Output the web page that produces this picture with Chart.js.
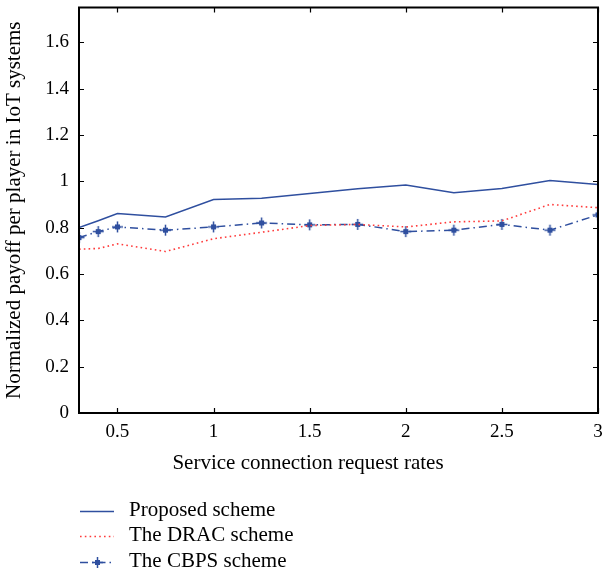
<!DOCTYPE html>
<html>
<head>
<meta charset="utf-8">
<script src="https://cdn.jsdelivr.net/npm/chart.js@4/dist/chart.umd.min.js"></script>
<style>
  html, body { margin: 0; padding: 0; background: #fff; }
  canvas { display: block; }
</style>
</head>
<body>
<canvas id="c" width="616" height="573"></canvas>
<script>
// Service connection request rates
const rates = [0.3, 0.4, 0.5, 0.75, 1, 1.25, 1.5, 1.75, 2, 2.25, 2.5, 2.75, 3];
// Normalized payoff per player
const proposed = [0.80, 0.83, 0.861, 0.846, 0.921, 0.927, 0.947, 0.968, 0.984, 0.951, 0.969, 1.003, 0.986];
const drac     = [0.707, 0.71, 0.730, 0.697, 0.752, 0.780, 0.809, 0.814, 0.803, 0.825, 0.829, 0.900, 0.886];
const cbps     = [0.757, 0.783, 0.803, 0.789, 0.803, 0.820, 0.812, 0.814, 0.783, 0.789, 0.814, 0.789, 0.855];
const seriesNames = ['Proposed scheme', 'The DRAC scheme', 'The CBPS scheme'];
const xTitle = 'Service connection request rates';
const yTitle = 'Normalized payoff per player in IoT systems';
const xTicks = [0.5, 1, 1.5, 2, 2.5, 3];
const yTicks = [0, 0.2, 0.4, 0.6, 0.8, 1, 1.2, 1.4, 1.6];

const BLUE = '#2f4f9f';
const RED = '#ff3b3b';
const FONT = '"Liberation Serif", "DejaVu Serif", serif';

// plus-with-square marker for the CBPS series
function makeMarker() {
  const m = document.createElement('canvas');
  m.width = 13; m.height = 13;
  const g = m.getContext('2d');
  g.strokeStyle = BLUE; g.fillStyle = BLUE; g.lineWidth = 1.5;
  g.beginPath();
  g.moveTo(6.5, 1); g.lineTo(6.5, 12);
  g.moveTo(1, 6.5); g.lineTo(12, 6.5);
  g.stroke();
  g.fillRect(4, 4, 5, 5);
  return m;
}
const marker = makeMarker();

const pts = ys => rates.map((x, i) => ({ x, y: ys[i] }));

const datasets = [
  { label: seriesNames[0], data: pts(proposed), borderColor: BLUE, borderWidth: 1.5,
    pointRadius: 0, fill: false, tension: 0 },
  { label: seriesNames[1], data: pts(drac), borderColor: RED, borderWidth: 1.6,
    borderDash: [1.6, 3.2], pointRadius: 0, fill: false, tension: 0 },
  { label: seriesNames[2], data: pts(cbps), borderColor: BLUE, borderWidth: 1.5,
    borderDash: [8, 4, 1.5, 4], pointStyle: marker, pointRadius: 6, fill: false, tension: 0 }
];

// box frame with inward ticks on all four sides, the x-axis title and the stacked legend
const framePlugin = {
  id: 'frame',
  afterDatasetsDraw(chart) {
    const { ctx, chartArea: a, scales: { x, y } } = chart;
    ctx.save();
    ctx.strokeStyle = '#000';
    ctx.lineWidth = 2;
    ctx.strokeRect(a.left, a.top, a.right - a.left, a.bottom - a.top);
    ctx.lineWidth = 1.2;
    const L = 5;
    ctx.beginPath();
    xTicks.forEach(v => {
      const px = Math.round(x.getPixelForValue(v)) + 0.5;
      ctx.moveTo(px, a.bottom); ctx.lineTo(px, a.bottom - L);
      ctx.moveTo(px, a.top); ctx.lineTo(px, a.top + L);
    });
    yTicks.forEach(v => {
      const py = Math.round(y.getPixelForValue(v)) + 0.5;
      ctx.moveTo(a.left, py); ctx.lineTo(a.left + L, py);
      ctx.moveTo(a.right, py); ctx.lineTo(a.right - L, py);
    });
    ctx.stroke();
    ctx.restore();
  },
  afterDraw(chart) {
    const { ctx, width } = chart;
    ctx.save();
    ctx.font = '21px ' + FONT;
    ctx.fillStyle = '#000';
    ctx.textBaseline = 'alphabetic';
    ctx.textAlign = 'center';
    ctx.fillText(xTitle, width / 2, 469);

    ctx.textAlign = 'left';
    const x0 = 80, x1 = 114, tx = 129;
    const baselines = [516, 541, 567];
    chart.data.datasets.forEach((ds, i) => {
      const yy = baselines[i] - 4.5;
      ctx.strokeStyle = ds.borderColor;
      ctx.lineWidth = ds.borderWidth;
      ctx.setLineDash(ds.borderDash || []);
      ctx.beginPath(); ctx.moveTo(x0, yy); ctx.lineTo(x1, yy); ctx.stroke();
      ctx.setLineDash([]);
      if (ds.pointStyle && typeof ds.pointStyle !== 'string') {
        ctx.drawImage(ds.pointStyle, Math.round((x0 + x1) / 2 - 6.5), Math.round(yy - 6.5));
      }
      ctx.fillStyle = '#000';
      ctx.fillText(ds.label, tx, baselines[i]);
    });
    ctx.restore();
  }
};

new Chart(document.getElementById('c'), {
  type: 'line',
  data: { datasets },
  options: {
    responsive: false,
    animation: false,
    layout: { padding: { left: 0, top: 5, right: 18, bottom: 90 } },
    plugins: { legend: { display: false }, tooltip: { enabled: false } },
    scales: {
      x: {
        type: 'linear', min: 0.3, max: 3,
        afterBuildTicks: s => { s.ticks = xTicks.map(v => ({ value: v })); },
        afterFit: s => { s.height = 70; s.paddingLeft = 0; s.paddingRight = 0; },
        grid: { display: false, drawTicks: false },
        border: { display: false },
        ticks: { color: '#000', font: { family: FONT, size: 19 }, padding: 8,
                 maxRotation: 0, callback: v => String(+v.toFixed(2)) },
        title: { display: false }
      },
      y: {
        type: 'linear', min: 0, max: 1.75,
        afterBuildTicks: s => { s.ticks = yTicks.map(v => ({ value: v })); },
        afterFit: s => { s.width = 79; s.paddingTop = 0; s.paddingBottom = 0; },
        grid: { display: false, drawTicks: false },
        border: { display: false },
        ticks: { color: '#000', font: { family: FONT, size: 19 }, padding: 10,
                 callback: v => String(+v.toFixed(2)) },
        title: { display: true, text: yTitle, color: '#000',
                 font: { family: FONT, size: 21 }, padding: { top: 2, bottom: 2 } }
      }
    }
  },
  plugins: [framePlugin]
});
</script>
</body>
</html>
